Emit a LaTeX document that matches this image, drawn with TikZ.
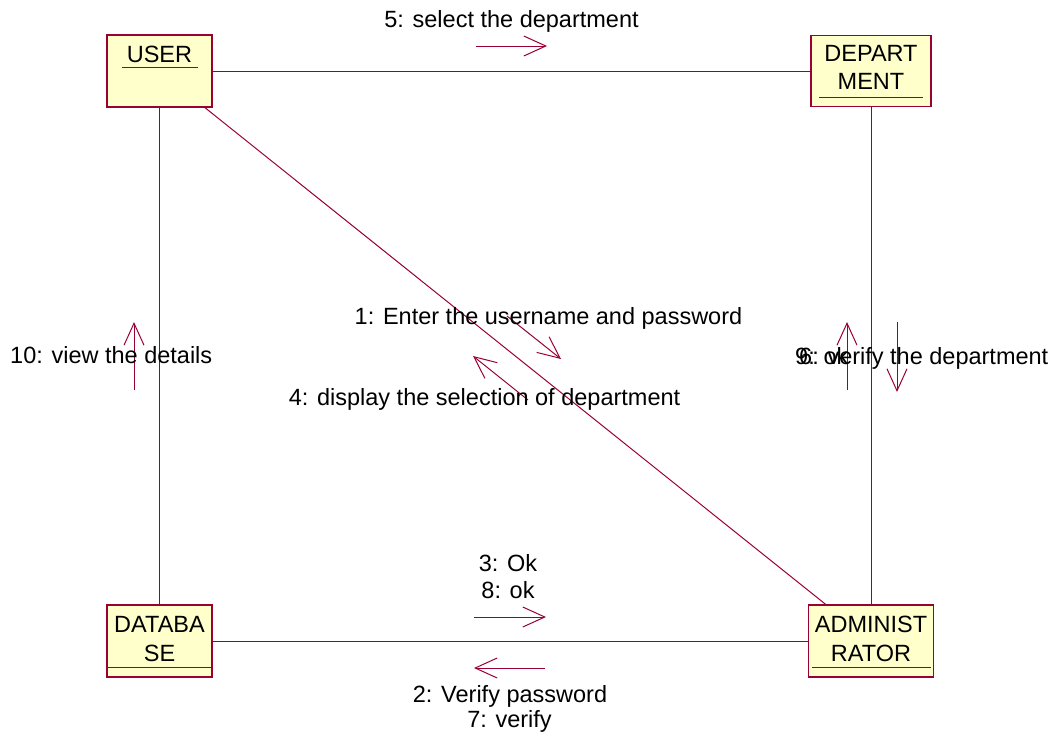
\documentclass[tikz,border=0pt]{standalone}
\usepackage{fontspec}
\setmainfont{Liberation Sans}
\usepackage{tikz}
\usetikzlibrary{arrows.meta,calc,positioning}
\definecolor{lien}{RGB}{153,0,51}
\definecolor{fond}{RGB}{255,255,204}

\begin{document}
\begin{tikzpicture}[x=1pt,y=-1pt,
		objet/.style={rectangle, draw=lien, fill=fond, line width=1.2pt, inner sep=0pt},
		nom/.style={anchor=base, inner sep=0pt, font=\fontsize{23.5}{28}\selectfont},
		texte/.style={anchor=base, inner sep=0pt, font=\fontsize{23.5}{28}\selectfont},
		souligne/.style={draw=lien, line width=1pt},
		assoc/.style={draw=lien, line width=1pt},
		msg/.style={draw=lien, line width=1pt, -{Straight Barb[length=22pt,width=20pt]}}
		]
		\useasboundingbox (0,0) rectangle (1054,739);
	
		% Objets
		\node[objet, minimum width=105pt, minimum height=72pt] (user) at (159.5,71) {};
		\node[objet, minimum width=120pt, minimum height=71pt] (dept) at (871,71) {};
		\node[objet, minimum width=105pt, minimum height=72pt] (db) at (159.5,641) {};
		\node[objet, minimum width=125pt, minimum height=72pt] (admin) at (871,641) {};
	
		\node[nom] (userN) at ($(user.north)+(0,28)$) {USER};
		\node[nom] (deptN1) at ($(dept.north)+(0,27)$) {DEPART};
		\node[nom] (deptN2) at ($(dept.north)+(0,55)$) {MENT};
		\node[nom] (dbN1) at ($(db.north)+(0,28)$) {DATABA};
		\node[nom] (dbN2) at ($(db.north)+(0,57)$) {SE};
		\node[nom] (adminN1) at ($(admin.north)+(0,28)$) {ADMINIST};
		\node[nom] (adminN2) at ($(admin.north)+(0,57)$) {RATOR};
	
		\draw[souligne] ($(user.north west)+(16,33)$) -- ($(user.north east)+(-15,33)$);
		\draw[souligne] ($(dept.north west)+(9,63)$) -- ($(dept.north east)+(-9,63)$);
		\draw[souligne] ($(db.north west)+(0,63)$) -- ($(db.north east)+(0,63)$);
		\draw[souligne] ($(admin.north west)+(4.5,63)$) -- ($(admin.north east)+(-3.5,63)$);
	
		% Liens
		\draw[assoc] (user) -- (dept);
		\draw[assoc] (user) -- (db);
		\draw[assoc] (user) -- (admin);
		\draw[assoc] (dept) -- (admin);
		\draw[assoc] (db) -- (admin);
	
		% Messages
		\coordinate (m5a) at (476,46);   \coordinate (m5b) at (547,46);
		\coordinate (m10a) at (134,390); \coordinate (m10b) at (134,322);
		\coordinate (m9a) at (847,390);  \coordinate (m9b) at (847,322);
		\coordinate (m6a) at (897,322);  \coordinate (m6b) at (897,392);
		\coordinate (m1a) at (507,316);  \coordinate (m1b) at (561,359);
		\coordinate (m4a) at (528,400);  \coordinate (m4b) at (473,356);
		\coordinate (m3a) at (474,617);  \coordinate (m3b) at (546,617);
		\coordinate (m2a) at (545,668);  \coordinate (m2b) at (474,668);
	
		\draw[msg] (m5a) -- (m5b);
		\draw[msg] (m10a) -- (m10b);
		\draw[msg] (m9a) -- (m9b);
		\draw[msg] (m6a) -- (m6b);
		\draw[msg] (m1a) -- (m1b);
		\draw[msg] (m4a) -- (m4b);
		\draw[msg] (m3a) -- (m3b);
		\draw[msg] (m2a) -- (m2b);
	
		\node[texte] (l5) at (511.5,27) {5: select the department};
		\node[texte] (l1) at (548.5,324) {1: Enter the username and password};
		\node[texte] (l4) at (484.5,405) {4: display the selection of department};
		\node[texte] (l3) at (508,571) {3: Ok};
		\node[texte] (l8) at (508,598) {8: ok};
		\node[texte] (l2) at (510,702) {2: Verify password};
		\node[texte] (l7) at (509.5,727) {7: verify};
		\node[texte, anchor=base west] (l9) at (795,364) {9: ok};
		\node[texte, anchor=base west] (l6) at (799,364) {6: verify the department};
		\node[texte, anchor=base west] (l10) at (10,363) {10: view the details};
	\end{tikzpicture}
\end{document}
